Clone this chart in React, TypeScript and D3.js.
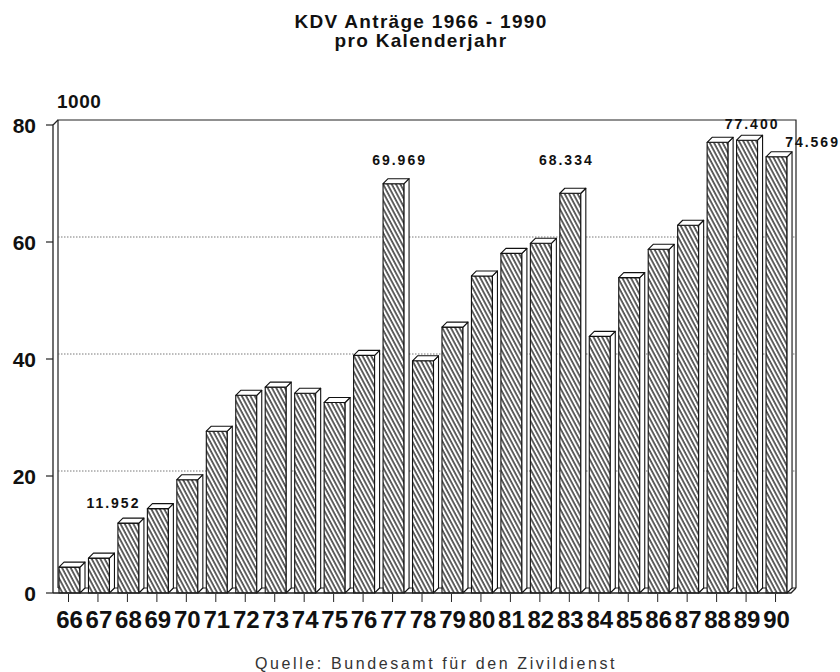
import React from 'react'
import * as d3 from 'd3'

// KDV-Anträge in 1000, 1966 - 1990
const years = ['66', '67', '68', '69', '70', '71', '72', '73', '74', '75', '76', '77', '78', '79', '80', '81', '82', '83', '84', '85', '86', '87', '88', '89', '90']
const applications = [4.431, 5.963, 11.952, 14.42, 19.363, 27.657, 33.792, 35.192, 34.15, 32.565, 40.618, 69.969, 39.698, 45.454, 54.193, 58.051, 59.776, 68.334, 43.875, 53.907, 58.757, 62.862, 77.048, 77.4, 74.569]
const yTicks = [0, 20, 40, 60, 80]
const gridValues = [20, 40, 60]
const annotatedYears = ['68', '77', '83', '89', '90']
const annotationTexts = ['11.952', '69.969', '68.334', '77.400', '74.569']

const W = 840
const H = 672
const DX = 5 // depth of the 3d effect
const DY = 5

export default function App() {
  const x = d3.scaleBand<string>().domain(years).range([59, 795.5]).padding(0)
  const y = d3.scaleLinear().domain([0, 80]).range([593, 125])
  const barW = 21
  const base = y(0)
  const left = 53
  const right = 791

  // label offsets, tuned by eye
  const labelOffset: Record<string, [number, number]> = {
    '68': [-15, -15],
    '77': [6, -19],
    '83': [-4, -28],
    '89': [5, -11],
    '90': [36, -10],
  }

  return (
    <svg width={W} height={H} style={{ position: 'absolute', left: 0, top: 0, background: '#fff' }}
      fontFamily="'Liberation Sans', Arial, sans-serif">
      <defs>
        <pattern id="hatch" patternUnits="userSpaceOnUse" width={3.8} height={10} patternTransform="rotate(-28)">
          <rect width={3.8} height={10} fill="#fff" />
          <line x1={1} y1={0} x2={1} y2={10} stroke="#111" strokeWidth={1.3} />
        </pattern>
      </defs>

      {/* title */}
      <text x={421} y={28} textAnchor="middle" fontSize={19} fontWeight="bold" letterSpacing={1.3} fill="#111">KDV Anträge 1966 - 1990</text>
      <text x={421} y={47} textAnchor="middle" fontSize={19} fontWeight="bold" letterSpacing={1.3} fill="#111">pro Kalenderjahr</text>

      {/* back wall */}
      <path d={`M${left + DX},${base - DY}V${y(80) - DY}H${right + DX}V${base - DY}`} fill="none" stroke="#222" strokeWidth={1.2} />
      {gridValues.map(v => (
        <line key={v} x1={left + DX} x2={right + DX} y1={y(v) - DY} y2={y(v) - DY}
          stroke="#555" strokeWidth={0.8} strokeDasharray="1.5,1.5" />
      ))}
      {/* left wall */}
      <path d={`M${left},${base}V${y(80)}L${left + DX},${y(80) - DY}`} fill="none" stroke="#222" strokeWidth={1.3} />

      {/* y axis */}
      {yTicks.map(t => (
        <g key={t}>
          <line x1={46} x2={left} y1={y(t)} y2={y(t)} stroke="#222" strokeWidth={1.2} />
          <text x={36} y={y(t) + 8} textAnchor="end" fontSize={21} fontWeight="bold" fill="#111">{t}</text>
        </g>
      ))}
      <text x={57} y={108} fontSize={19} fontWeight="bold" fill="#111" letterSpacing={0.5}>1000</text>

      {/* floor back edge */}
      <line x1={left + DX} x2={right + DX} y1={base - DY} y2={base - DY} stroke="#222" strokeWidth={1} />

      {/* bars */}
      {years.map((yr, i) => {
        const x0 = x(yr)!
        const top = y(applications[i])
        const x1 = x0 + barW
        return (
          <g key={yr} stroke="#111" strokeWidth={1.1} strokeLinejoin="round">
            <rect x={x0} y={top} width={barW} height={base - top} fill="url(#hatch)" />
            <path d={`M${x1},${top}L${x1 + DX},${top - DY}V${base - DY}L${x1},${base}Z`} fill="#fff" />
            <path d={`M${x0},${top}L${x0 + DX},${top - DY}H${x1 + DX}L${x1},${top}Z`} fill="#fff" />
          </g>
        )
      })}

      {/* floor front edge and x ticks */}
      <path d={`M${left},${base}H${right}L${right + DX},${base - DY}`} fill="none" stroke="#222" strokeWidth={1.3} />
      {years.map(yr => {
        const cx = x(yr)! + barW / 2
        return (
          <g key={yr}>
            <line x1={cx - 1} x2={cx - 1} y1={base + 1} y2={base + 9} stroke="#222" strokeWidth={1} />
            <text x={cx} y={628} textAnchor="middle" fontSize={24} fontWeight="bold" fill="#111">{yr}</text>
          </g>
        )
      })}

      {/* value labels */}
      {annotatedYears.map((yr, i) => {
        const idx = years.indexOf(yr)
        const [ox, oy] = labelOffset[yr]
        return (
          <text key={yr} x={x(yr)! + barW / 2 + ox} y={y(applications[idx]) + oy} textAnchor="middle"
            fontSize={14} fontWeight="bold" letterSpacing={2} fill="#111">{annotationTexts[i]}</text>
        )
      })}

      {/* source */}
      <text x={436} y={669} textAnchor="middle" fontSize={16} letterSpacing={2.6} fill="#333">Quelle: Bundesamt für den Zivildienst</text>
    </svg>
  )
}
